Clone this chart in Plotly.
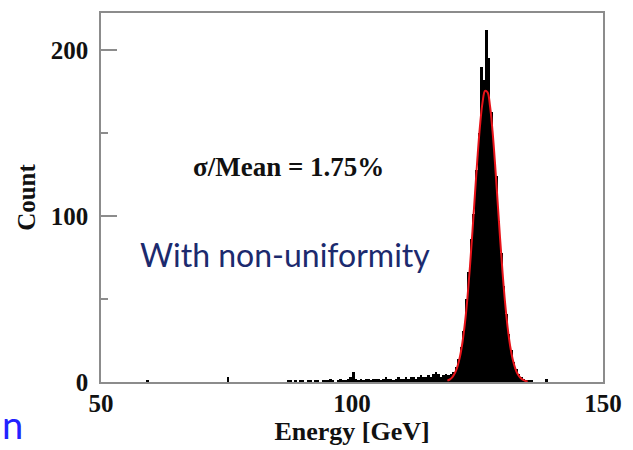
import plotly.graph_objects as go

# ---- data ----
hist_start = 85.0
hist_width = 0.5
hist_counts = [
    0, 0, 0, 0, 1, 1, 0, 1, 0, 1,          # 85 - 90
    1, 0, 1, 1, 0, 1, 1, 0, 1, 1,          # 90 - 95
    1, 2, 1, 0, 1, 2, 1, 1, 2, 3,          # 95 - 100
    6, 2, 1, 2, 1, 2, 2, 1, 2, 2,          # 100 - 105
    2, 1, 2, 3, 2, 2, 1, 2, 3, 2,          # 105 - 110
    2, 3, 2, 3, 3, 2, 3, 4, 3, 3,          # 110 - 115
    4, 3, 5, 6,                            # 115 - 117
    5, 3, 4, 5, 4, 5, 6, 9, 14, 21,        # 117 - 122
    31, 50, 66, 86, 101, 128, 150, 190, 182, 212,   # 122 - 127
    195, 163, 140, 124, 97, 78, 58, 41, 29, 19,     # 127 - 132
    12, 8, 5, 3, 2, 1, 1, 1,               # 132 - 136
]
outlier_energy = [59.25, 75.25, 138.75]
outlier_count = [1, 3, 2]

fit_energy = [119.0, 119.5, 120.0, 120.5, 121.0, 121.5, 122.0, 122.5, 123.0, 123.5,
              124.0, 124.5, 125.0, 125.5, 126.0, 126.5, 127.0, 127.5, 128.0, 128.5,
              129.0, 129.5, 130.0, 130.5, 131.0, 131.5, 132.0, 132.5, 133.0, 133.5,
              134.0, 134.5, 135.0]
fit_count = [0.8, 1.6, 3.0, 5.4, 9.3, 15.2, 23.8, 35.6, 50.9, 69.6,
             91.0, 113.5, 135.5, 154.5, 168.4, 175.4, 174.6, 166.2, 151.0, 131.3,
             109.0, 86.5, 65.7, 47.6, 33.0, 21.8, 13.8, 8.4, 4.8, 2.7,
             1.4, 0.7, 0.3]

x_ticks = [50, 100, 150]
y_ticks = [0, 100, 200]

bin_centers = [hist_start + hist_width * (i + 0.5) for i in range(len(hist_counts))]
all_x = bin_centers + outlier_energy
all_y = hist_counts + outlier_count

serif = "Liberation Serif"

fig = go.Figure()
fig.add_trace(go.Bar(
    x=all_x, y=all_y, width=hist_width,
    marker=dict(color="black", line=dict(width=0)),
    showlegend=False,
))
fig.add_trace(go.Scatter(
    x=fit_energy, y=fit_count, mode="lines",
    line=dict(color="#e8141a", width=2, shape="spline"),
    showlegend=False,
))

fig.update_layout(
    width=633, height=450,
    margin=dict(l=101, r=29, t=11, b=62),
    plot_bgcolor="white", paper_bgcolor="white",
    bargap=0,
    font=dict(family=serif, size=24, color="#111111"),
    xaxis=dict(
        range=[50, 150], tickvals=x_ticks, ticktext=[str(v) for v in x_ticks],
        showgrid=False, zeroline=False,
        showline=True, linecolor="#8c8c8c", linewidth=1.5, mirror=True,
        ticks="", ticklabelstandoff=-2,
        tickfont=dict(family=serif, size=25, color="#111111", weight="bold"),
        title=dict(text="Energy [GeV]", standoff=4,
                   font=dict(family=serif, size=26, color="#111111", weight="bold")),
    ),
    yaxis=dict(
        range=[0, 222.4], tickvals=y_ticks, ticktext=[str(v) for v in y_ticks],
        showgrid=False, zeroline=False,
        showline=True, linecolor="#8c8c8c", linewidth=1.5, mirror=True,
        ticks="inside", ticklen=16, tickcolor="#8c8c8c", tickwidth=1.5,
        minor=dict(dtick=50, ticks="inside", ticklen=7, tickcolor="#8c8c8c", tickwidth=1.5),
        ticklabelstandoff=6,
        tickfont=dict(family=serif, size=25, color="#111111", weight="bold"),
        title=dict(text="Count", standoff=8,
                   font=dict(family=serif, size=25, color="#111111", weight="bold")),
    ),
)

fig.add_annotation(
    x=87.4, y=129.8, xref="x", yref="y", showarrow=False,
    text="σ/Mean = 1.75%",
    font=dict(family=serif, size=27, color="#111111", weight="bold"),
)
fig.add_annotation(
    x=57.4, y=76.7, xref="x", yref="y", showarrow=False, xanchor="left",
    text="With non-uniformity",
    font=dict(family="Lato", size=32, color="#1c2a6e"),
)
fig.add_annotation(
    x=0, y=0, xref="paper", yref="paper", showarrow=False,
    xanchor="left", yanchor="middle", xshift=-101, yshift=-42,
    text="n",
    font=dict(family="Lato", size=38, color="#2222ff"),
)

fig.write_html("out.html")
